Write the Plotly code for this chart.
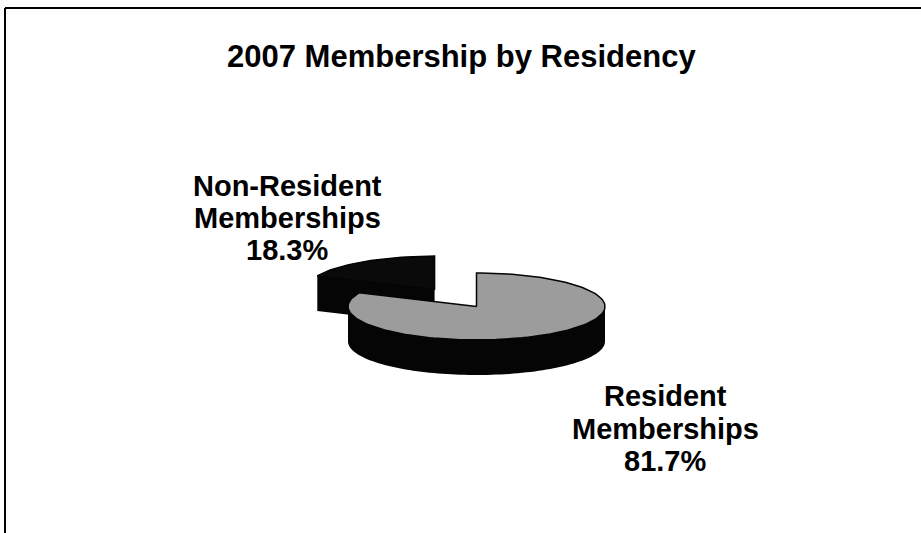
import numpy as np
import plotly.graph_objects as go

# ---- data ----
categories = ["Resident Memberships", "Non-Resident Memberships"]
shares = [81.7, 18.3]
label_lines = [["Resident", "Memberships", "81.7%"],
               ["Non-Resident", "Memberships", "18.3%"]]
title_text = "2007 Membership by Residency"

# ---- styling / layout constants ----
top_colors = ["#9c9c9c", "#0a0a0a"]
explode = [0.0, 0.6]
CX, CY, RX, RY, DEPTH = 476.5, 306.5, 128.5, 33.5, 35.0
FONT = "Liberation Sans, Arial, sans-serif"
label_pos = [(665, [396, 429, 461]), (287, [186, 218, 250])]


def signed_area(pts):
    x = np.array([p[0] for p in pts]); y = np.array([p[1] for p in pts])
    return 0.5 * np.sum(x * np.roll(y, -1) - np.roll(x, -1) * y)


def oriented(pts):
    return pts if signed_area(pts) >= 0 else pts[::-1]


def slice_geometry(a_start, a_end, e):
    mid = np.radians((a_start + a_end) / 2)
    ox, oy = e * RX * np.cos(mid), -e * RY * np.sin(mid)
    n = max(8, int(abs(a_end - a_start) / 2))
    t = np.radians(np.linspace(a_start, a_end, n))
    cx, cy = CX + ox, CY + oy
    top = [(cx, cy)] + [(cx + RX * np.cos(a), cy - RY * np.sin(a)) for a in t]
    return top


def body_path(top):
    xs, ys = [], []
    polys = []
    bottom = [(x, y + DEPTH) for x, y in top]
    polys.append(oriented(bottom))
    m = len(top)
    for i in range(m):
        p, q = top[i], top[(i + 1) % m]
        quad = [p, q, (q[0], q[1] + DEPTH), (p[0], p[1] + DEPTH)]
        if abs(signed_area(quad)) < 1e-6:
            continue
        polys.append(oriented(quad))
    polys.append(oriented(top))
    for poly in polys:
        xs += [p[0] for p in poly] + [poly[0][0], None]
        ys += [p[1] for p in poly] + [poly[0][1], None]
    return xs, ys


fig = go.Figure()

# angles: Excel style, first slice starts at 12 o'clock going clockwise
angles = []
cum = 0.0
for s in shares:
    a0 = 90 - 360 * cum / 100
    a1 = 90 - 360 * (cum + s) / 100
    angles.append((a0, a1))
    cum += s

# draw the exploded (back) slice first, main slice on top
for i in [1, 0]:
    a0, a1 = angles[i]
    top = slice_geometry(a0, a1, explode[i])
    bx, by = body_path(top)
    fig.add_trace(go.Scatter(x=bx, y=by, mode="lines", fill="toself",
                             fillcolor="#050505", line=dict(width=0, color="#050505"),
                             hoverinfo="skip", showlegend=False))
    fig.add_trace(go.Scatter(x=[p[0] for p in top] + [top[0][0]],
                             y=[p[1] for p in top] + [top[0][1]],
                             mode="lines", fill="toself", fillcolor=top_colors[i],
                             line=dict(width=1.5, color="#050505"),
                             name=categories[i], hoverinfo="name", showlegend=False))

annotations = [dict(x=461, y=56, text="<b>%s</b>" % title_text, showarrow=False,
                    xref="x", yref="y", font=dict(family=FONT, size=31, color="#000"))]
for i, lines in enumerate(label_lines):
    lx, lys = label_pos[i]
    for txt, ly in zip(lines, lys):
        annotations.append(dict(x=lx, y=ly, text="<b>%s</b>" % txt, showarrow=False,
                                xref="x", yref="y",
                                font=dict(family=FONT, size=29, color="#000")))

fig.update_layout(
    width=921, height=533, margin=dict(l=0, r=0, t=0, b=0),
    paper_bgcolor="white", plot_bgcolor="white",
    xaxis=dict(range=[0, 921], visible=False, fixedrange=True),
    yaxis=dict(range=[533, 0], visible=False, fixedrange=True),
    annotations=annotations,
    shapes=[
        dict(type="line", xref="x", yref="y", x0=5, x1=921, y0=8, y1=8,
             line=dict(color="#000", width=2)),
        dict(type="line", xref="x", yref="y", x0=5, x1=5, y0=8, y1=533,
             line=dict(color="#000", width=2)),
    ],
)

fig.write_html("out.html")
